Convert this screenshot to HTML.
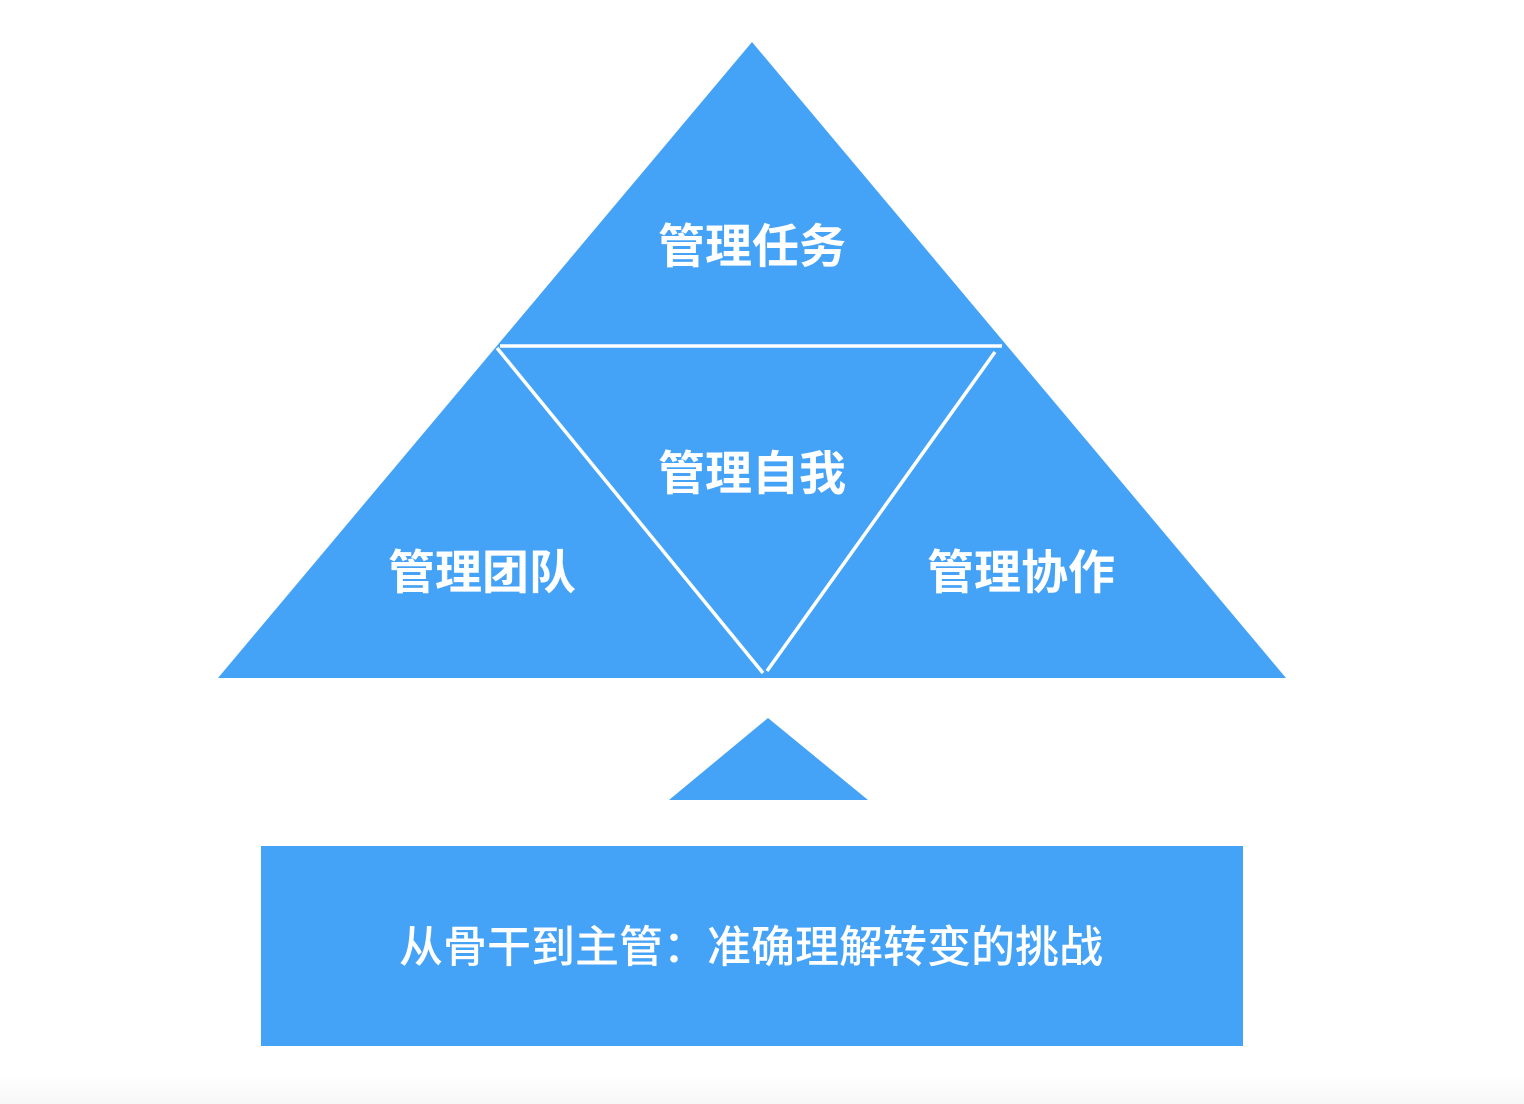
<!DOCTYPE html>
<html><head><meta charset="utf-8"><style>
html,body{margin:0;padding:0;background:#fff;}
body{width:1524px;height:1104px;position:relative;overflow:hidden;}
svg{position:absolute;left:0;top:0;}
text{font-family:"Liberation Sans","Noto Sans CJK SC",sans-serif;fill:#fff;font-weight:bold;}
</style></head><body>
<svg width="1524" height="1104" viewBox="0 0 1524 1104">
<defs><linearGradient id="g" x1="0" y1="0" x2="0" y2="1"><stop offset="0" stop-color="#fff"/><stop offset="1" stop-color="#f7f7f7"/></linearGradient></defs>
<rect x="0" y="1075" width="1524" height="29" fill="url(#g)"/>
<polygon points="752,42 218,678 1286,678" fill="#44a2f7"/>
<line x1="500" y1="346" x2="1002" y2="346" stroke="#fff" stroke-width="3.5"/>
<line x1="497" y1="348" x2="763" y2="673" stroke="#fff" stroke-width="3.5"/>
<line x1="995" y1="352" x2="767" y2="671" stroke="#fff" stroke-width="3.5"/>
<polygon points="768,718 669,800 868,800" fill="#44a2f7"/>
<rect x="261" y="846" width="982" height="200" fill="#44a2f7"/>
<text x="752" y="263" font-size="47" text-anchor="middle">管理任务</text>
<text x="752" y="490" font-size="47" text-anchor="middle">管理自我</text>
<text x="482" y="589" font-size="47" text-anchor="middle">管理团队</text>
<text x="1021" y="589" font-size="47" text-anchor="middle">管理协作</text>
<text x="751" y="962" font-size="44" text-anchor="middle" style="font-weight:500">从骨干到主管：准确理解转变的挑战</text>
</svg>
</body></html>
